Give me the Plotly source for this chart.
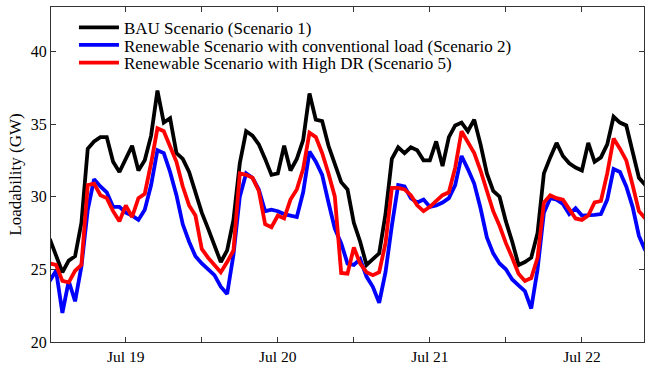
import pandas as pd
import plotly.graph_objects as go

# Hourly loadability (GW), hours counted from Jul 19 00:00 (first point Jul 18 12:00)
hours = list(range(-12, 83))

bau = [
    27.1, 26.0, 24.8, 25.6, 25.9, 28.2, 33.3, 33.8, 34.1, 34.1, 32.4, 31.7,
    32.6, 33.5, 31.8, 32.5, 34.2, 37.3, 35.1, 35.4, 33.0, 32.6, 31.7, 30.3,
    28.9, 27.8, 26.7, 25.5, 26.3, 28.4, 32.3, 34.5, 34.2, 33.6, 32.6, 31.5,
    31.6, 33.5, 31.8, 32.6, 33.9, 37.1, 35.3, 35.2, 33.5, 32.3, 31.0, 30.5,
    28.2, 26.9, 25.3, 25.7, 26.1, 28.8, 32.6, 33.4, 33.0, 33.4, 33.2, 32.5,
    32.5, 33.8, 32.1, 34.1, 34.9, 35.1, 34.5, 35.3, 33.6, 31.6, 30.4, 30.0,
    28.3, 26.9, 25.3, 25.5, 25.8, 27.5, 31.6, 32.7, 33.7, 32.8, 32.3, 32.0,
    31.8, 33.7, 32.4, 32.7, 33.6, 35.5, 35.1, 34.9, 33.2, 31.3, 30.8,
]

renew_conv = [
    24.2, 24.9, 22.0, 24.2, 22.8, 25.2, 29.1, 31.2, 30.7, 30.3, 29.3, 29.3,
    28.9, 28.7, 28.4, 29.1, 30.8, 33.2, 33.0, 31.7, 30.1, 28.1, 26.9, 25.9,
    25.4, 25.0, 24.6, 23.8, 23.3, 26.0, 30.0, 31.6, 31.3, 30.5, 29.0, 29.1,
    29.0, 28.8, 28.7, 28.6, 30.3, 33.1, 32.4, 31.5, 29.6, 27.8, 26.8, 25.4,
    25.3, 25.7, 24.5, 23.8, 22.7, 24.8, 28.0, 30.8, 30.7, 29.9, 29.6, 29.8,
    29.3, 29.4, 29.6, 29.9, 30.8, 32.8, 31.9, 30.9, 29.2, 27.2, 26.1, 25.4,
    25.0, 24.3, 23.9, 23.5, 22.3, 25.0, 28.9, 29.9, 29.8, 29.5, 28.8, 29.2,
    28.7, 28.7, 28.75, 28.8, 29.8, 31.9, 31.7, 30.7, 29.3, 27.3, 26.3,
]

renew_dr = [
    25.4, 25.3, 24.2, 24.1, 24.9, 25.3, 30.8, 30.9, 30.1, 29.9, 29.0, 28.3,
    29.4, 28.6, 29.9, 30.2, 32.3, 34.7, 34.5, 33.5, 32.4, 30.7, 29.4, 28.7,
    26.4, 25.8, 25.3, 24.8, 25.5, 26.3, 31.6, 31.5, 31.3, 30.4, 28.1, 27.9,
    28.7, 28.5, 29.8, 30.5, 31.9, 34.4, 34.1, 33.0, 31.6, 30.0, 24.75, 24.7,
    26.5, 25.4, 24.8, 24.6, 24.8, 26.8, 30.6, 30.6, 30.5, 30.1, 29.4, 29.0,
    29.3, 29.7, 30.1, 30.3, 32.0, 34.5, 33.8, 33.0, 31.8, 30.3, 29.0, 28.0,
    26.8, 25.8, 24.7, 24.2, 24.4, 25.8, 29.6, 30.1, 29.9, 29.8, 29.1, 28.5,
    28.4, 28.7, 29.6, 29.7, 31.6, 34.0, 33.3, 32.5, 30.8, 29.0, 28.5,
]

series_names = [
    "BAU Scenario (Scenario 1)",
    "Renewable Scenario with conventional load (Scenario 2)",
    "Renewable Scenario with High DR (Scenario 5)",
]
series_colors = ["#000000", "#0000ff", "#ff0000"]

day0 = pd.Timestamp("2012-07-19")
times = [day0 + pd.Timedelta(hours=h) for h in hours]

# x ticks every 12 hours, labels only at midnight
tick_hours = [0, 12, 24, 36, 48, 60, 72]
tick_vals = [day0 + pd.Timedelta(hours=h) for h in tick_hours]
tick_text = [(day0 + pd.Timedelta(hours=h)).strftime("%b %d") if h % 24 == 0 else "" for h in tick_hours]

font_family = "Liberation Serif"
legend_ids = ["legend", "legend2", "legend3"]
legend_rows_y = [0.938, 0.8855, 0.8327]

fig = go.Figure()
for name, vals, col, lid in zip(series_names, [bau, renew_conv, renew_dr], series_colors, legend_ids):
    fig.add_trace(go.Scatter(
        x=times, y=vals, mode="lines", name=name, legend=lid,
        line=dict(color=col, width=3.8),
    ))

legend_style = dict(
    xanchor="left", yanchor="middle",
    bgcolor="rgba(0,0,0,0)", borderwidth=0,
    font=dict(family=font_family, size=17),
    itemwidth=40,
)

fig.update_layout(
    width=646, height=366,
    margin=dict(l=51, r=1, t=7, b=18),
    paper_bgcolor="white", plot_bgcolor="white",
    font=dict(family=font_family, size=15, color="#000000"),
    showlegend=True,
    legend=dict(x=0.0387, y=legend_rows_y[0], **legend_style),
    legend2=dict(x=0.0387, y=legend_rows_y[1], **legend_style),
    legend3=dict(x=0.0387, y=legend_rows_y[2], **legend_style),
    xaxis=dict(
        range=[day0 + pd.Timedelta(hours=-11.8), day0 + pd.Timedelta(hours=81.8)],
        tickvals=tick_vals, ticktext=tick_text,
        ticks="inside", ticklen=5, tickcolor="#333333",
        showline=True, linecolor="#333333", linewidth=1, mirror="ticks",
        showgrid=False, zeroline=False,
        tickfont=dict(family=font_family, size=15.5),
    ),
    yaxis=dict(
        range=[20, 43.05],
        tickvals=[20, 25, 30, 35, 40],
        ticks="inside", ticklen=5, tickcolor="#333333",
        showline=True, linecolor="#333333", linewidth=1, mirror="ticks",
        showgrid=False, zeroline=False,
        tickfont=dict(family=font_family, size=16),
        title=dict(text="Loadability (GW)", font=dict(family=font_family, size=17), standoff=4),
    ),
)

fig.write_html("out.html")
